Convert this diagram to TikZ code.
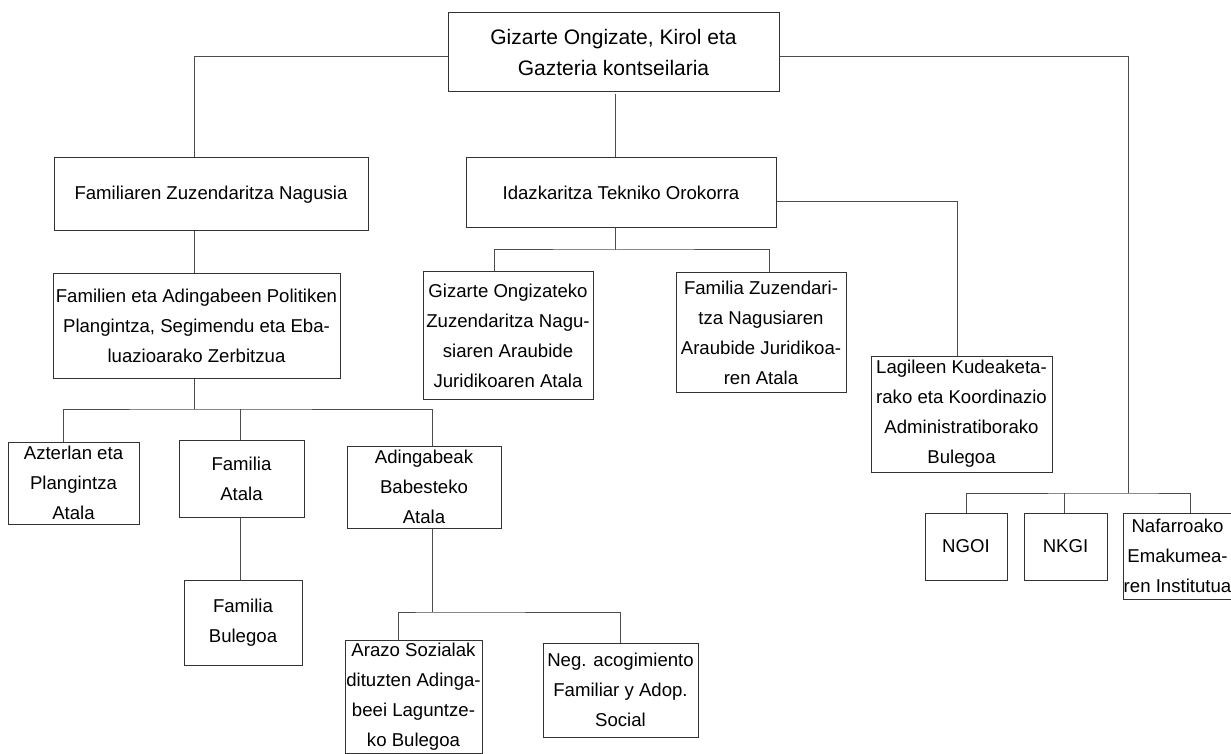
\documentclass[tikz,border=0pt]{standalone}
\usepackage{fontspec}
\setmainfont{Liberation Sans}
\usetikzlibrary{positioning}
\usetikzlibrary{calc}

\begin{document}
\begin{tikzpicture}[x=0.5pt,y=-0.5pt,
		unit/.style={rectangle,draw=black!80,line width=.5pt,inner sep=0pt,align=center,font=\fontsize{9.3}{15}\selectfont},
		link/.style={draw=black!70,line width=.5pt}]
		\useasboundingbox (0,0) rectangle (1231,754);
		% boxes
		\node[unit,minimum width=165.5pt,minimum height=39.5pt,font=\fontsize{10.5}{15.5}\selectfont] (kons) at (613.5,52.5) {Gizarte Ongizate, Kirol eta\\Gazteria kontseilaria};
		\node[unit,minimum width=157pt,minimum height=36.5pt] (fzn) at (211,194.5) {Familiaren Zuzendaritza Nagusia};
		\node[unit,minimum width=155pt,minimum height=35pt] (idaz) at (621,193) {Idazkaritza Tekniko Orokorra};
		\node[unit,minimum width=143.5pt,minimum height=52pt] (plan) at (196.5,326) {Familien eta Adingabeen Politiken\\Plangintza, Segimendu eta Eba-\\luazioarako Zerbitzua};
		\node[unit,minimum width=85pt,minimum height=63.5pt] (gizo) at (508,335.5) {Gizarte Ongizateko\\Zuzendaritza Nagu-\\siaren Araubide\\Juridikoaren Atala};
		\node[unit,minimum width=85pt,minimum height=59.5pt] (fzuz) at (761,332.5) {Familia Zuzendari-\\tza Nagusiaren\\Araubide Juridikoa-\\ren Atala};
		\node[unit,minimum width=90.5pt,minimum height=58pt] (lag) at (961.5,414) {Lagileen Kudeaketa-\\rako eta Koordinazio\\Administratiborako\\Bulegoa};
		\node[unit,minimum width=65.5pt,minimum height=41pt] (azter) at (73.5,483) {Azterlan eta\\Plangintza\\Atala};
		\node[unit,minimum width=62.5pt,minimum height=38.5pt] (fat) at (241.5,478.5) {Familia\\Atala};
		\node[unit,minimum width=77pt,minimum height=41pt] (adin) at (424,487) {Adingabeak\\Babesteko\\Atala};
		\node[unit,minimum width=59pt,minimum height=42.5pt] (fbul) at (243,622.5) {Familia\\Bulegoa};
		\node[unit,minimum width=68.5pt,minimum height=56.5pt] (arazo) at (413.5,696.5) {Arazo Sozialak\\dituzten Adinga-\\beei Laguntze-\\ko Bulegoa};
		\node[unit,minimum width=77.5pt,minimum height=47pt] (neg) at (620.5,690) {Neg. acogimiento\\Familiar y Adop.\\Social};
		\node[unit,minimum width=41pt,minimum height=33.5pt] (ngoi) at (966,546.5) {NGOI};
		\node[unit,minimum width=41.5pt,minimum height=33.5pt] (nkgi) [right = 8pt of ngoi] {NKGI};
		\node[unit,minimum width=54.5pt,minimum height=43pt] (naf) [right = 7.5pt of nkgi.north east, anchor=north west] {Nafarroako\\Emakumea-\\ren Institutua};
		% junctions
		\coordinate (rj) at (1128,493);
		\coordinate (ij) at (615,250);
		\coordinate (pj) at (194,409);
		\coordinate (aj) at (432,612);
		% links
		\draw[link] ($(kons.west)+(0,4.5)$) -| ($(fzn.north)+(-17,0)$);
		\draw[link] ($(kons.east)+(0,4.5)$) -| (rj);
		\draw[link] ($(kons.south)+(1.5,2)$) -- ($(idaz.north)+(-6,0)$);
		\draw[link] ($(fzn.south)+(-17,0)$) -- ($(plan.north)+(-2.5,0)$);
		\draw[link] ($(plan.south)+(-2.5,0)$) -- (pj);
		\draw[link] ($(azter.north)+(-10.5,0)$) |- (pj) -| ($(adin.north)+(8,0)$);
		\draw[link] (fat.north) ++(-1.5,0) coordinate (f1) -- (f1 |- pj);
		\draw[link] (fat.south) ++(-1.5,0) coordinate (f2) -- (f2 |- fbul.north);
		\draw[link] (adin.south) ++(8,0) coordinate (a1) -- (a1 |- aj);
		\draw[link] ($(arazo.north)+(-15.5,0)$) |- (aj) -| (neg.north);
		\draw[link] (idaz.south) ++(-6,0) coordinate (i1) -- (i1 |- ij);
		\draw[link] ($(gizo.north)+(-14,0)$) |- (ij) -| ($(fzuz.north)+(8,0)$);
		\draw[link] ($(idaz.east)+(0,9)$) -| ($(lag.north)+(-4.5,0)$);
		\draw[link] (ngoi.north) |- (rj) -| ($(naf.north)+(12.5,0)$);
		\draw[link] (nkgi.north) ++(-1.5,0) coordinate (n1) -- (n1 |- rj);
	\end{tikzpicture}
\end{document}
